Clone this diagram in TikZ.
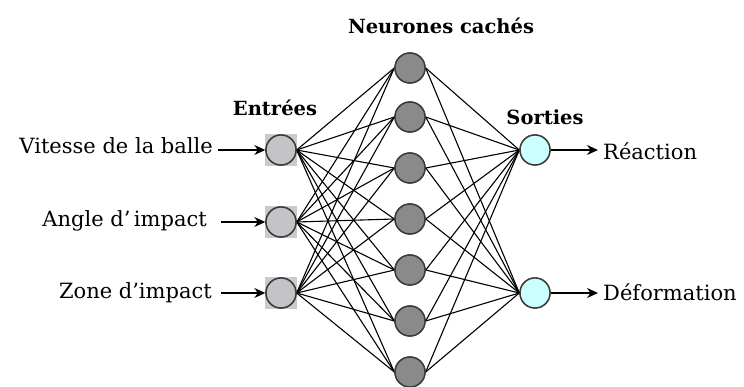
\documentclass[tikz,border=0pt]{standalone}
\usepackage{fontspec}
\newfontfamily\lblfont{DejaVu Serif}
\newfontfamily\hdrfont{DejaVu Serif}
\usetikzlibrary{arrows.meta}
\definecolor{inFill}{HTML}{C4C4C8}
\definecolor{sqFill}{HTML}{CACACA}
\definecolor{hidFill}{HTML}{8A8A8A}
\definecolor{outFill}{HTML}{CCFFFF}
\definecolor{edgeCol}{HTML}{3A3A3A}
\tikzset{
  x=1pt, y=1pt,
  inneuron/.style={circle, draw=edgeCol, line width=1.4pt, fill=inFill, minimum size=30pt, inner sep=0pt},
  insquare/.style={rectangle, fill=sqFill, minimum size=32pt, inner sep=0pt},
  hidneuron/.style={circle, draw=edgeCol, line width=1.4pt, fill=hidFill, minimum size=30pt, inner sep=0pt},
  outneuron/.style={circle, draw=edgeCol, line width=1.4pt, fill=outFill, minimum size=30pt, inner sep=0pt},
  link/.style={draw=black, line width=1.1pt},
  feed/.style={draw=black, line width=1.3pt, -{Stealth[length=11pt,width=10pt]}},
  lbl/.style={font=\fontsize{21}{24}\selectfont\lblfont, inner sep=0pt},
  hdr/.style={font=\fontsize{19.5}{24}\selectfont\hdrfont\bfseries, inner sep=0pt}
}
\begin{document}
\begin{tikzpicture}
\useasboundingbox (0,0) rectangle (744,387);
% input squares and neurons
\foreach \i/\y in {1/237,2/165,3/94}{
  \node[insquare] (sq\i) at (281,\y) {};
  \node[inneuron] (in\i) at (281,\y) {};
}
% hidden neurons
\foreach \j/\y in {1/319,2/270,3/219,4/168,5/117,6/66,7/15}{
  \node[hidneuron] (h\j) at (410,\y) {};
}
% output neurons
\node[outneuron] (o1) at (535,237) {};
\node[outneuron] (o2) at (535,94) {};
% connections
\foreach \i in {1,2,3}{
  \foreach \j in {1,...,7}{
    \draw[link] (in\i.east) -- (h\j.west);
  }
}
\foreach \j in {1,...,7}{
  \foreach \k in {1,2}{
    \draw[link] (h\j.east) -- (o\k.west);
  }
}
% redraw neurons on top
\foreach \i/\y in {1/237,2/165,3/94}{
  \node[inneuron] at (281,\y) {};
}
\foreach \j/\y in {1/319,2/270,3/219,4/168,5/117,6/66,7/15}{
  \node[hidneuron] at (410,\y) {};
}
\node[outneuron] at (535,237) {};
\node[outneuron] at (535,94) {};
% input arrows
\coordinate (t1) at (218,237);
\coordinate (t2) at (221,165);
\coordinate (t3) at (221,94);
\draw[feed] (t1) -- (in1.west);
\draw[feed] (t2) -- (in2.west);
\draw[feed] (t3) -- (in3.west);
% output arrows
\coordinate (e1) at (598,237);
\coordinate (e2) at (598,94);
\draw[feed] (o1.east) -- (e1);
\draw[feed] (o2.east) -- (e2);
% labels
\node[lbl, anchor=base east] (l1) at (213,233) {Vitesse de la balle};
\node[lbl, anchor=base east] (l2) at (207,160) {Angle d’\,impact};
\node[lbl, anchor=base east] (l3) at (212,88) {Zone d’impact};
\node[lbl, anchor=base west] (r1) at (603,227) {Réaction};
\node[lbl, anchor=base west] (r2) at (603,86) {Déformation};
% headers
\node[hdr, anchor=base] (hin) at (275,271) {Entrées};
\node[hdr, anchor=base] (hhid) at (441,353) {Neurones cachés};
\node[hdr, anchor=base] (hout) at (545,262) {Sorties};
\end{tikzpicture}
\end{document}
